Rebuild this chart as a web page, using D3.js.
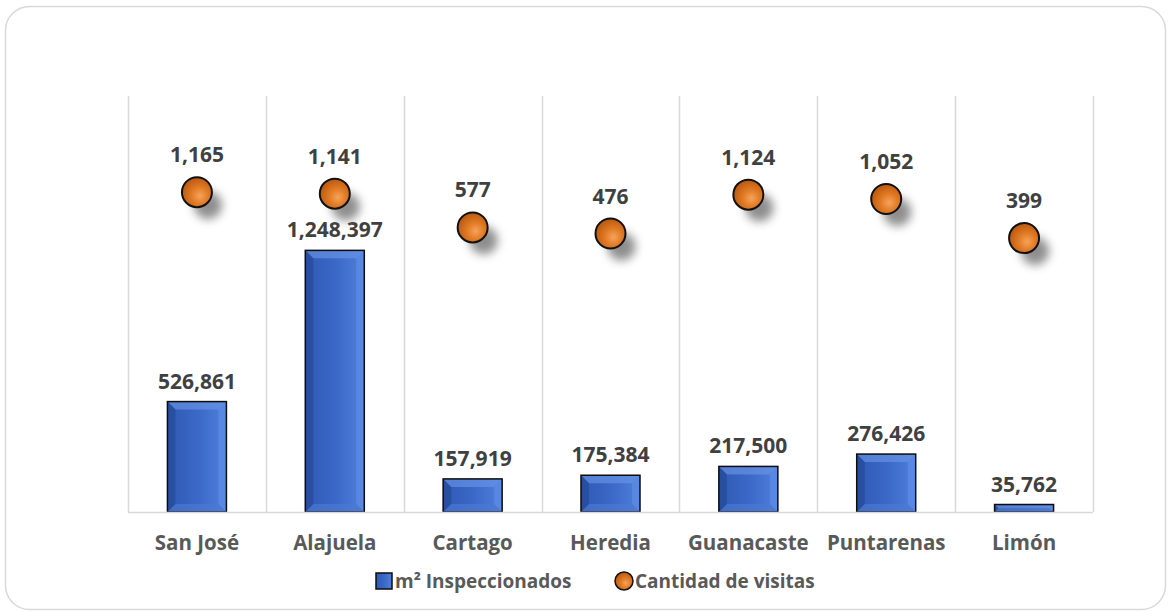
<!DOCTYPE html>
<html>
<head>
<meta charset="utf-8">
<script src="https://cdn.jsdelivr.net/npm/d3@7"></script>
<style>
  html, body { margin: 0; padding: 0; background: #fff; }
  svg { display: block; font-family: "Open Sans", "Liberation Sans", sans-serif; }
</style>
</head>
<body>
<svg id="chart" width="1171" height="615"></svg>
<script>
const categories = ["San José", "Alajuela", "Cartago", "Heredia", "Guanacaste", "Puntarenas", "Limón"];
const m2Inspeccionados = [526861, 1248397, 157919, 175384, 217500, 276426, 35762];
const cantidadVisitas = [1165, 1141, 577, 476, 1124, 1052, 399];
const seriesNames = ["m² Inspeccionados", "Cantidad de visitas"];

const svg = d3.select("#chart");
const W = 1171, H = 615;
const plot = { left: 128, right: 1093, top: 96, bottom: 512 };

const defs = svg.append("defs");
const bg = defs.append("linearGradient").attr("id", "barFace").attr("x1", "0").attr("x2", "1").attr("y1", "0").attr("y2", "0");
bg.append("stop").attr("offset", "0%").attr("stop-color", "#2f59b4");
bg.append("stop").attr("offset", "50%").attr("stop-color", "#3b68c6");
bg.append("stop").attr("offset", "100%").attr("stop-color", "#4f7fdc");
const rg = defs.append("radialGradient").attr("id", "dotGrad").attr("cx", "60%").attr("cy", "62%").attr("r", "65%");
rg.append("stop").attr("offset", "0%").attr("stop-color", "#f7a35a");
rg.append("stop").attr("offset", "45%").attr("stop-color", "#e07a24");
rg.append("stop").attr("offset", "100%").attr("stop-color", "#b8560e");
const blur = defs.append("filter").attr("id", "shadowBlur").attr("x", "-1").attr("y", "-1").attr("width", "3").attr("height", "3");
blur.append("feGaussianBlur").attr("stdDeviation", 5);

svg.append("rect")
  .attr("x", 5.5).attr("y", 6.5).attr("width", W - 11).attr("height", H - 12)
  .attr("rx", 24).attr("ry", 24)
  .attr("fill", "#fff").attr("stroke", "#d9d9d9").attr("stroke-width", 1.5);

const x = d3.scaleBand().domain(categories).range([plot.left, plot.right]).padding(0);
const y = d3.scaleLinear().domain([0, 1985000]).range([plot.bottom, plot.top]);
const y2 = d3.scaleLinear().domain([-4170, 2770]).range([plot.bottom, plot.top]);
const fmt = d3.format(",");

const bounds = categories.map(c => x(c)).concat([plot.right]);
svg.append("g").selectAll("line").data(bounds).join("line")
  .attr("x1", d => Math.round(d) + 0.5).attr("x2", d => Math.round(d) + 0.5)
  .attr("y1", plot.top).attr("y2", plot.bottom)
  .attr("stroke", "#d9d9d9").attr("stroke-width", 1.5);

const barW = 59;
const bars = svg.append("g").selectAll("g").data(categories.map((c, i) => ({ c, v: m2Inspeccionados[i] }))).join("g");
bars.each(function(d) {
  const g = d3.select(this);
  const cx = x(d.c) + x.bandwidth() / 2;
  const x0 = cx - barW / 2, x1 = cx + barW / 2;
  const yt = y(d.v), yb = y(0);
  const h = yb - yt;
  const b = Math.min(8, h / 2, barW / 2);
  g.append("rect").attr("x", x0).attr("y", yt).attr("width", barW).attr("height", h).attr("fill", "url(#barFace)");
  const poly = (pts, fill, op) => g.append("polygon").attr("points", pts.map(p => p.join(",")).join(" ")).attr("fill", fill).attr("opacity", op);
  poly([[x0, yt], [x1, yt], [x1 - b, yt + b], [x0 + b, yt + b]], "#6d97ea", 0.6);
  poly([[x1, yt], [x1, yb], [x1 - b, yb - b], [x1 - b, yt + b]], "#5f8fea", 0.65);
  poly([[x0, yb], [x1, yb], [x1 - b, yb - b], [x0 + b, yb - b]], "#4b79d4", 0.65);
  poly([[x0, yt], [x0 + b, yt + b], [x0 + b, yb - b], [x0, yb]], "#22478f", 0.6);
  g.append("rect").attr("x", x0).attr("y", yt).attr("width", barW).attr("height", h)
    .attr("fill", "none").attr("stroke", "#0d0d0d").attr("stroke-width", 1.5);
  g.append("text").attr("x", cx).attr("y", yt - 13).attr("text-anchor", "middle")
    .attr("font-size", 21).attr("font-weight", 700).attr("fill", "#404040").text(fmt(d.v));
});

svg.append("line").attr("x1", plot.left).attr("x2", plot.right)
  .attr("y1", plot.bottom + 0.5).attr("y2", plot.bottom + 0.5)
  .attr("stroke", "#d9d9d9").attr("stroke-width", 1.5);

const xAxis = svg.append("g").attr("transform", `translate(0,${plot.bottom})`)
  .call(d3.axisBottom(x).tickSize(0).tickPadding(23));
xAxis.select(".domain").remove();
xAxis.selectAll("text").attr("font-size", 20.5).attr("font-weight", 700).attr("fill", "#595959")
  .attr("font-family", "'Open Sans', sans-serif");

const dots = svg.append("g").selectAll("g").data(categories.map((c, i) => ({ c, v: cantidadVisitas[i] }))).join("g");
dots.each(function(d) {
  const g = d3.select(this);
  const cx = x(d.c) + x.bandwidth() / 2;
  const cy = y2(d.v);
  g.append("circle").attr("cx", cx + 11).attr("cy", cy + 13).attr("r", 14).attr("fill", "#7a7a7a")
    .attr("opacity", 0.85).attr("filter", "url(#shadowBlur)");
  g.append("circle").attr("cx", cx).attr("cy", cy).attr("r", 15).attr("fill", "url(#dotGrad)")
    .attr("stroke", "#111").attr("stroke-width", 2);
  g.append("text").attr("x", cx).attr("y", cy - 30).attr("text-anchor", "middle")
    .attr("font-size", 21).attr("font-weight", 700).attr("fill", "#404040").text(fmt(d.v));
});

const leg = svg.append("g").attr("transform", "translate(0,581)");
leg.append("rect").attr("x", 376).attr("y", -8).attr("width", 16).attr("height", 16).attr("fill", "url(#barFace)")
  .attr("stroke", "#0d0d0d").attr("stroke-width", 1.5);
leg.append("text").attr("x", 395).attr("y", 7).attr("font-size", 19).attr("font-weight", 700).attr("fill", "#595959")
  .text(seriesNames[0]);
leg.append("circle").attr("cx", 624).attr("cy", 0).attr("r", 9).attr("fill", "url(#dotGrad)")
  .attr("stroke", "#111").attr("stroke-width", 1.5);
leg.append("text").attr("x", 635).attr("y", 7).attr("font-size", 19).attr("font-weight", 700).attr("fill", "#595959")
  .text(seriesNames[1]);
</script>
</body>
</html>
